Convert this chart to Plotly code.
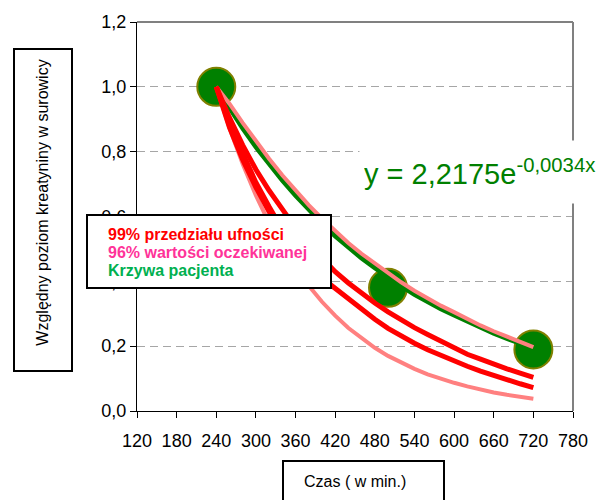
import plotly.graph_objects as go

# ---------------- data ----------------
minutes = [240, 260, 280, 300, 320, 340, 360, 380, 400, 420, 440, 460, 480,
           500, 520, 540, 560, 580, 600, 620, 640, 660, 680, 700, 720]

patient_curve = [1.000, 0.934, 0.873, 0.815, 0.762, 0.712, 0.665, 0.621, 0.580,
                 0.540, 0.505, 0.472, 0.442, 0.413, 0.386, 0.360, 0.337, 0.315,
                 0.296, 0.276, 0.257, 0.240, 0.224, 0.209, 0.195]

expected_upper = [1.000, 0.948, 0.889, 0.832, 0.778, 0.727, 0.680, 0.635, 0.594,
                  0.554, 0.518, 0.485, 0.455, 0.425, 0.397, 0.371, 0.347, 0.325,
                  0.305, 0.284, 0.264, 0.246, 0.229, 0.212, 0.197]

expected_lower = [1.000, 0.873, 0.762, 0.665, 0.580, 0.506, 0.442, 0.386, 0.337,
                  0.294, 0.256, 0.224, 0.195, 0.170, 0.149, 0.130, 0.113, 0.099,
                  0.087, 0.076, 0.066, 0.057, 0.050, 0.044, 0.038]

ci_upper = [1.000, 0.905, 0.820, 0.745, 0.680, 0.620, 0.565, 0.515, 0.470,
            0.430, 0.395, 0.362, 0.333, 0.306, 0.281, 0.257, 0.236, 0.215,
            0.193, 0.175, 0.160, 0.144, 0.130, 0.117, 0.104]

ci_lower = [1.000, 0.875, 0.775, 0.690, 0.615, 0.552, 0.497, 0.449, 0.410,
            0.378, 0.345, 0.313, 0.283, 0.255, 0.231, 0.209, 0.189, 0.171,
            0.154, 0.138, 0.123, 0.109, 0.096, 0.084, 0.072]

ci_short_minutes = [240, 260, 280, 300, 320, 340, 360, 380]
ci_short = [1.000, 0.890, 0.795, 0.705, 0.630, 0.560, 0.500, 0.450]

patient_minutes = [240, 500, 720]
patient_values = [1.0, 0.38, 0.19]

x_ticks = [120, 180, 240, 300, 360, 420, 480, 540, 600, 660, 720, 780]
y_ticks = [0.0, 0.2, 0.4, 0.6, 0.8, 1.0, 1.2]
y_tick_labels = ["0,0", "0,2", "0,4", "0,6", "0,8", "1,0", "1,2"]

legend_lines = ["99% przedziału ufności", "96% wartości oczekiwanej", "Krzywa pacjenta"]
legend_colors = ["#FF0000", "#FF3399", "#00B050"]
equation_main = "y = 2,2175e"
equation_exp = "-0,0034x"
y_title = "Względny poziom kreatyniny w surowicy"
x_title = "Czas ( w min.)"

# ---------------- layout geometry ----------------
W, H = 606, 500
L, T = 137, 17
PW, PH = 436, 394
R, B = W - L - PW, H - T - PH


def xp(px):
    return (px - L) / PW


def yp(py):
    return (T + PH - py) / PH


FONT = "Liberation Sans, Arial, sans-serif"

fig = go.Figure()

# patient measurements (big green dots) - drawn first
fig.add_trace(go.Scatter(x=patient_minutes, y=patient_values, mode="markers",
                         marker=dict(size=38, color="#008000",
                                     line=dict(color="#808000", width=2)),
                         showlegend=False, hoverinfo="skip"))
# patient curve
fig.add_trace(go.Scatter(x=minutes, y=patient_curve, mode="lines",
                         line=dict(color="#008000", width=5),
                         showlegend=False))
# 96% expected value band
for ys in (expected_upper, expected_lower):
    fig.add_trace(go.Scatter(x=minutes, y=ys, mode="lines",
                             line=dict(color="#FF8080", width=4),
                             showlegend=False))
# 99% confidence band
for xs, ys in ((minutes, ci_upper), (minutes, ci_lower), (ci_short_minutes, ci_short)):
    fig.add_trace(go.Scatter(x=xs, y=ys, mode="lines",
                             line=dict(color="#FF0000", width=5),
                             showlegend=False))

annotations = []
# legend box
annotations.append(dict(xref="paper", yref="paper", x=xp(86), y=yp(211),
                        xanchor="left", yanchor="top", text=" ", showarrow=False,
                        width=242, height=71, borderwidth=2, borderpad=0,
                        bordercolor="#000000", bgcolor="#FFFFFF"))
for i, (txt, col) in enumerate(zip(legend_lines, legend_colors)):
    annotations.append(dict(xref="paper", yref="paper", x=xp(106),
                            y=yp(232 + 18.3 * i), xanchor="left", yanchor="middle",
                            text="<b>" + txt + "</b>", showarrow=False,
                            font=dict(family=FONT, size=16, color=col)))
# equation (white box hides the grid line and right border behind it)
annotations.append(dict(xref="paper", yref="paper", x=xp(359), y=yp(137),
                        xanchor="left", yanchor="top", align="left", valign="middle",
                        text=equation_main + "<sup>" + equation_exp + "</sup>",
                        showarrow=False, width=240, height=54, borderpad=4,
                        bgcolor="#FFFFFF",
                        font=dict(family=FONT, size=29, color="#008000")))
# y title box + text
annotations.append(dict(xref="paper", yref="paper", x=xp(13), y=yp(43),
                        xanchor="left", yanchor="top", text=" ", showarrow=False,
                        width=56, height=320, borderwidth=2, borderpad=0,
                        bordercolor="#000000", bgcolor="#FFFFFF"))
annotations.append(dict(xref="paper", yref="paper", x=xp(43), y=yp(200),
                        xanchor="center", yanchor="middle", text=y_title,
                        textangle=-90, showarrow=False,
                        font=dict(family=FONT, size=16, color="#000000")))
# x title box + text
annotations.append(dict(xref="paper", yref="paper", x=xp(282), y=yp(461),
                        xanchor="left", yanchor="top", text=" ", showarrow=False,
                        width=159, height=60, borderwidth=2, borderpad=0,
                        bordercolor="#000000", bgcolor="#FFFFFF"))
annotations.append(dict(xref="paper", yref="paper", x=xp(302), y=yp(482),
                        xanchor="left", yanchor="middle", text=x_title,
                        showarrow=False,
                        font=dict(family=FONT, size=16, color="#000000")))

shapes = [
    dict(type="line", xref="paper", yref="paper", x0=0, x1=1, y0=1, y1=1,
         line=dict(color="#808080", width=2), layer="above"),
    dict(type="line", xref="paper", yref="paper", x0=1, x1=1, y0=0, y1=1,
         line=dict(color="#808080", width=2), layer="above"),
]

fig.update_layout(
    width=W, height=H, autosize=False,
    margin=dict(l=L, r=R, t=T, b=B, pad=0),
    paper_bgcolor="#FFFFFF", plot_bgcolor="#FFFFFF",
    font=dict(family=FONT, color="#000000"),
    showlegend=False,
    annotations=annotations,
    shapes=shapes,
    xaxis=dict(range=[120, 780], tickvals=x_ticks, ticktext=[str(v) for v in x_ticks],
               showgrid=False, zeroline=False, showline=True, linecolor="#000000",
               linewidth=1, ticks="outside", ticklen=6, tickcolor="#000000",
               tickfont=dict(family=FONT, size=18, color="#000000"),
               ticklabelstandoff=7),
    yaxis=dict(range=[0, 1.2], tickvals=y_ticks, ticktext=y_tick_labels,
               showgrid=True, gridcolor="#A6A6A6", gridwidth=1, griddash="8px,5px",
               zeroline=False, showline=True, linecolor="#000000", linewidth=1,
               ticks="outside", ticklen=6, tickcolor="#000000",
               tickfont=dict(family=FONT, size=18, color="#000000")),
)

# remove the default 8px page margin so the figure fills the 606x500 window exactly
fig.write_html("out.html", config={"displayModeBar": False},
               post_script="document.body.style.margin='0px';")
